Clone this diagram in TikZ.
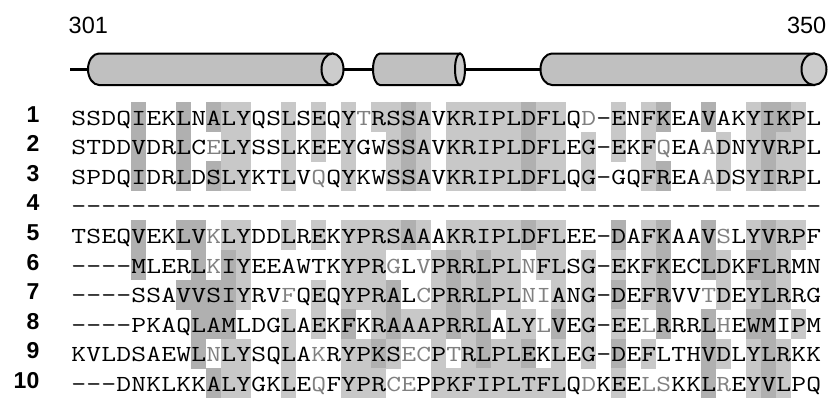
\documentclass[tikz,border=0pt]{standalone}
\usepackage{graphicx}
\usepackage{fontspec}
\setmainfont{Liberation Sans}
\definecolor{lightsh}{HTML}{C8C8C8}
\definecolor{darksh}{HTML}{B0B0B0}
\definecolor{gtext}{HTML}{808080}
\definecolor{helixfill}{HTML}{C0C0C0}
\definecolor{helixend}{HTML}{CCCCCC}
% each residue in a fixed cell (12pt, stretched to 15pt); a '*' greys the next residue
\def\seqrow#1{\scalebox{1.25}[1]{\seqloop#1\relax}}
\def\seqloop#1{%
  \ifx\relax#1\let\seqnext\relax
  \else\ifx*#1\let\seqnext\seqgray
  \else\makebox[12pt]{#1}\let\seqnext\seqloop\fi\fi
  \seqnext}
\def\seqgray#1{\makebox[12pt]{\textcolor{gtext}{#1}}\seqloop}
\begin{document}
\begin{tikzpicture}[x=1pt,y=-1pt,
  seq/.style={anchor=base west,inner sep=0pt,font=\ttfamily\fontsize{23}{23}\selectfont},
  lab/.style={anchor=base east,inner sep=0pt,font=\bfseries\fontsize{23}{23}\selectfont},
  num/.style={inner sep=0pt,font=\fontsize{23.5}{23.5}\selectfont},
  helix/.style={draw=black,line width=2pt,fill=helixfill},
  helixcap/.style={draw=black,line width=2pt,fill=helixend},
  backbone/.style={draw=black,line width=3.5pt}]
\useasboundingbox (0,0) rectangle (831,399);
\fill[white] (0,0) rectangle (831,399);

% ---- shading of the alignment
\foreach \rw/\vals in {
 1/{0,0,0,0,2,0,0,2,0,2, 1,1,0,0,1,0,1,0,1,0, 1,1,2,1,0,1,1,1,1,1, 2,1,1,0,0,0,1,0,1,2, 0,0,2,0,0,1,2,2,1,0},
 2/{0,0,0,0,2,0,0,2,0,0, 1,1,0,0,1,0,1,0,1,0, 0,1,2,1,0,1,1,1,1,1, 2,1,1,0,1,0,1,0,1,0, 0,0,0,1,0,1,2,1,1,0},
 3/{0,0,0,0,2,0,0,2,0,2, 1,1,0,0,1,0,0,0,1,0, 0,1,2,1,0,1,1,1,1,1, 2,1,1,0,1,0,0,0,1,2, 0,0,0,1,0,1,2,1,1,0},
 5/{0,0,0,0,2,0,0,2,2,0, 1,1,0,0,1,0,1,0,1,1, 1,1,2,1,0,1,1,1,1,1, 2,1,1,0,0,0,2,0,1,2, 0,0,2,0,0,1,2,1,1,0},
 6/{0,0,0,0,2,0,0,0,2,0, 2,1,0,0,0,0,0,0,1,1, 1,0,0,0,1,2,1,2,1,1, 0,1,1,0,1,0,1,0,1,2, 0,0,2,1,0,2,2,1,0,0},
 7/{0,0,0,0,0,0,0,2,2,2, 2,1,0,0,0,0,1,0,1,1, 1,2,0,0,1,2,1,2,1,1, 0,0,1,0,1,0,2,0,1,2, 0,0,0,1,0,1,2,1,0,0},
 8/{0,0,0,0,0,0,0,0,2,2, 2,0,0,0,1,0,1,0,2,0, 1,2,1,1,1,2,1,2,0,1, 1,0,2,0,1,0,1,0,0,2, 0,0,2,0,0,2,2,0,1,0},
 9/{0,0,0,0,0,0,0,0,2,0, 1,1,0,0,1,0,0,0,1,1, 2,1,0,0,1,0,1,2,1,1, 2,0,1,0,1,0,2,0,1,0, 0,0,2,1,0,1,2,1,0,0},
 10/{0,0,0,0,0,0,0,0,0,2, 1,1,0,0,1,0,0,0,1,1, 1,0,0,0,1,1,1,1,1,1, 1,1,1,0,0,0,1,0,0,0, 0,0,2,0,0,1,2,1,0,0}} {
  \foreach \v [count=\ci from 0] in \vals {
    \ifcase\v
    \or \fill[lightsh] ({71+15*\ci},{102+29.6*(\rw-1)}) rectangle ++(15.3,29.9);
    \or \fill[darksh] ({71+15*\ci},{102+29.6*(\rw-1)}) rectangle ++(15.3,29.9);
    \fi
  }
}

% ---- secondary structure
\draw[backbone] (70,69.25) -- (541,69.25);
% helix 1
\path[helix] (332.5,53.5) -- (99,53.5) arc[start angle=270,end angle=90,x radius=11,y radius=15.75] -- (332.5,85) -- cycle;
\path[helixcap] (332.5,69.25) ellipse[x radius=11,y radius=15.75];
% helix 2
\path[helix] (460,53.5) -- (380,53.5) arc[start angle=270,end angle=90,x radius=7,y radius=15.75] -- (460,85) -- cycle;
\path[helixcap] (460,69.25) ellipse[x radius=5,y radius=15.75];
% helix 3
\path[helix] (814,53.5) -- (552,53.5) arc[start angle=270,end angle=90,x radius=11.5,y radius=15.75] -- (814,85) -- cycle;
\path[helixcap] (814,69.25) ellipse[x radius=12.5,y radius=15.75];

% ---- residue numbers
\node[num,anchor=base west] (n301) at (68.5,33) {301};
\node[num,anchor=base east] (n350) at (826.5,33) {350};

% ---- row labels
\foreach \k in {1,...,10} {
  \node[lab] (lab\k) at (39.5,{122+29.6*(\k-1)}) {\k};
}

% ---- sequences
\node[seq] (r1) at (71,125.0) {\seqrow{SSDQIEKLNALYQSLSEQY*TRSSAVKRIPLDFLQ*D-ENFKEAVAKYIKPL}};
\node[seq] (r2) at (71,154.6) {\seqrow{STDDVDRLC*ELYSSLKEEYGWSSAVKRIPLDFLEG-EKF*QEA*ADNYVRPL}};
\node[seq] (r3) at (71,184.2) {\seqrow{SPDQIDRLDSLYKTLV*QQYKWSSAVKRIPLDFLQG-GQFREA*ADSYIRPL}};
\node[seq] (r4) at (71,213.8) {\seqrow{--------------------------------------------------}};
\node[seq] (r5) at (71,243.4) {\seqrow{TSEQVEKLV*KLYDDLREKYPRSAAAKRIPLDFLEE-DAFKAAV*SLYVRPF}};
\node[seq] (r6) at (71,273.0) {\seqrow{----MLERL*KIYEEAWTKYPR*GL*VPRRLPL*NFLSG-EKFKECLDKFLRMN}};
\node[seq] (r7) at (71,302.6) {\seqrow{----SSAVVSIYRV*FQEQYPRAL*CPRRLPL*N*IANG-DEFRVV*TDEYLRRG}};
\node[seq] (r8) at (71,332.2) {\seqrow{----PKAQLAMLDGLAEKFKRAAAPRRLALY*LVEG-EE*LRRRL*HEWMIPM}};
\node[seq] (r9) at (71,361.8) {\seqrow{KVLDSAEWL*NLYSQLA*KRYPKS*E*CP*TRLPLEKLEG-DEFLTHVDLYLRKK}};
\node[seq] (r10) at (71,391.4) {\seqrow{---DNKLKKALYGKLE*QFYPR*C*EPPKFIPLTFLQ*DKEE*L*SKKL*REYVLPQ}};
\end{tikzpicture}
\end{document}
